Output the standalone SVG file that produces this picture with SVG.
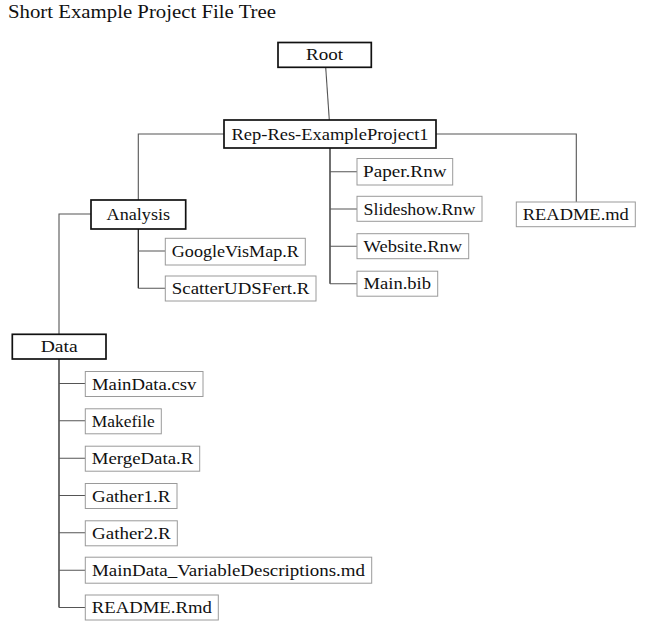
<svg xmlns="http://www.w3.org/2000/svg" width="651" height="640" viewBox="0 0 651 640">
<style>
  text { font-family: "Liberation Serif", "Times New Roman", serif; font-size: 17px; fill: #111; }
  .title { font-size: 18px; }
  .folder rect { fill: #fff; stroke: #111; stroke-width: 1.7; }
  .file rect { fill: #fff; stroke: #9a9a9a; stroke-width: 1; }
  .folder text, .file text { text-anchor: middle; }
  #connectors path { fill: none; stroke: #555; stroke-width: 1.1; }
  #connectors .trunk { stroke: #222; stroke-width: 1.3; }
</style>
<rect width="651" height="640" fill="#fff"/>
<text class="title" x="8" y="17.5" textLength="268" lengthAdjust="spacingAndGlyphs">Short Example Project File Tree</text>

<g id="connectors">
  <path d="M325.7,67.3 L329.3,120"/>
  <path d="M224,134 H138.3 V200"/>
  <path d="M436,134 H576.3 V202"/>
  <path class="trunk" d="M330,148 V283.7"/>
  <path d="M330,171.7 H357 M330,209 H357 M330,246.3 H357 M330,283.7 H357"/>
  <path class="trunk" d="M138.3,229 V288.3"/>
  <path d="M138.3,251 H165.3 M138.3,288.3 H165.3"/>
  <path d="M91,214 H59 V334.3"/>
  <path class="trunk" d="M59,359 V607.5"/>
  <path d="M59,383.5 H85.3 M59,420.8 H85.3 M59,458.2 H85.3 M59,495.5 H85.3 M59,532.8 H85.3 M59,570.2 H85.3 M59,607.5 H85.3"/>
</g>

<g id="root" class="folder">
  <rect x="278" y="42.5" width="93.3" height="24.8"/>
  <text x="324.6" y="60.3" textLength="37" lengthAdjust="spacingAndGlyphs">Root</text>
</g>
<g id="rep" class="folder">
  <rect x="224" y="120" width="212" height="28"/>
  <text x="330" y="139.5" textLength="197" lengthAdjust="spacingAndGlyphs">Rep-Res-ExampleProject1</text>
</g>
<g id="analysis" class="folder">
  <rect x="91" y="200" width="94.7" height="29"/>
  <text x="138.3" y="219.8" textLength="63.5" lengthAdjust="spacingAndGlyphs">Analysis</text>
</g>
<g id="data" class="folder">
  <rect x="12.3" y="334.3" width="93.7" height="24.7"/>
  <text x="59.2" y="352" textLength="37" lengthAdjust="spacingAndGlyphs">Data</text>
</g>

<g id="paper" class="file">
  <rect x="357" y="158.5" width="95.7" height="26.5"/>
  <text x="404.8" y="177" textLength="83.5" lengthAdjust="spacingAndGlyphs">Paper.Rnw</text>
</g>
<g id="slideshow" class="file">
  <rect x="357" y="196.3" width="125" height="25"/>
  <text x="419.5" y="214.5" textLength="112" lengthAdjust="spacingAndGlyphs">Slideshow.Rnw</text>
</g>
<g id="website" class="file">
  <rect x="357" y="233.7" width="111.7" height="25"/>
  <text x="412.8" y="251.8" textLength="98.5" lengthAdjust="spacingAndGlyphs">Website.Rnw</text>
</g>
<g id="mainbib" class="file">
  <rect x="357" y="271.2" width="80.7" height="25"/>
  <text x="397.3" y="289.2" textLength="67.5" lengthAdjust="spacingAndGlyphs">Main.bib</text>
</g>
<g id="readme-md" class="file">
  <rect x="516.3" y="202" width="119" height="24.7"/>
  <text x="575.8" y="220" textLength="106" lengthAdjust="spacingAndGlyphs">README.md</text>
</g>

<g id="googlevismap" class="file">
  <rect x="165.3" y="238.3" width="140" height="26.7"/>
  <text x="235.3" y="256.6" textLength="127" lengthAdjust="spacingAndGlyphs">GoogleVisMap.R</text>
</g>
<g id="scatter" class="file">
  <rect x="165.3" y="276" width="150.7" height="25"/>
  <text x="240.6" y="294" textLength="137.5" lengthAdjust="spacingAndGlyphs">ScatterUDSFert.R</text>
</g>

<g id="maindata-csv" class="file">
  <rect x="85.3" y="371.5" width="117.7" height="25"/>
  <text x="144.2" y="389.5" textLength="104.5" lengthAdjust="spacingAndGlyphs">MainData.csv</text>
</g>
<g id="makefile" class="file">
  <rect x="85.3" y="408.8" width="76" height="25"/>
  <text x="123.3" y="426.8" textLength="63" lengthAdjust="spacingAndGlyphs">Makefile</text>
</g>
<g id="mergedata" class="file">
  <rect x="85.3" y="446.2" width="114.4" height="25"/>
  <text x="142.5" y="464.2" textLength="101.5" lengthAdjust="spacingAndGlyphs">MergeData.R</text>
</g>
<g id="gather1" class="file">
  <rect x="85.3" y="483.5" width="91.7" height="25"/>
  <text x="131.2" y="501.5" textLength="78.5" lengthAdjust="spacingAndGlyphs">Gather1.R</text>
</g>
<g id="gather2" class="file">
  <rect x="85.3" y="520.8" width="92" height="25"/>
  <text x="131.3" y="538.8" textLength="78.5" lengthAdjust="spacingAndGlyphs">Gather2.R</text>
</g>
<g id="vardesc" class="file">
  <rect x="85.3" y="557.2" width="286.4" height="26"/>
  <text x="228.5" y="575.7" textLength="273" lengthAdjust="spacingAndGlyphs">MainData_VariableDescriptions.md</text>
</g>
<g id="readme-rmd" class="file">
  <rect x="85.3" y="595" width="133" height="25"/>
  <text x="151.8" y="613" textLength="120" lengthAdjust="spacingAndGlyphs">README.Rmd</text>
</g>
</svg>
